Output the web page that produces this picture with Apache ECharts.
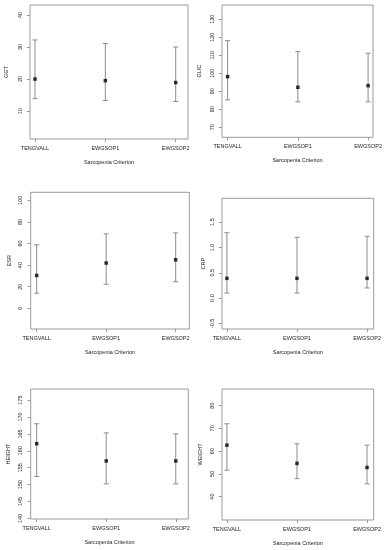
<!DOCTYPE html>
<html><head><meta charset="utf-8">
<script src="https://cdn.jsdelivr.net/npm/echarts@6/dist/echarts.min.js"></script>
<style>html,body{margin:0;padding:0;background:#fff}#c{width:385px;height:550px}</style>
</head><body><div id="c"></div>
<script>
// ---- data ----
const categories = ['TENGVALL', 'EWGSOP1', 'EWGSOP2'];
const xTitle = 'Sarcopenia Criterion';

const ggtMean = [20.0, 19.5, 18.9];
const ggtLow  = [13.9, 13.3, 13.0];
const ggtHigh = [32.2, 31.1, 30.0];
const ggtTicks = [10, 20, 30, 40];

const glicMean = [98.1, 92.2, 93.1];
const glicLow  = [85.2, 84.1, 84.1];
const glicHigh = [118.1, 112.0, 111.1];
const glicTicks = [70, 80, 90, 100, 110, 120, 130];

const esrMean = [30.4, 41.9, 44.9];
const esrLow  = [13.9, 22.2, 24.6];
const esrHigh = [58.8, 68.9, 69.8];
const esrTicks = [0, 20, 40, 60, 80, 100];

const crpMean = [0.39, 0.39, 0.39];
const crpLow  = [0.10, 0.10, 0.20];
const crpHigh = [1.29, 1.20, 1.22];
const crpTicks = [-0.5, 0.0, 0.5, 1.0, 1.5];

const heightMean = [162.1, 157.0, 157.0];
const heightLow  = [152.4, 150.2, 150.2];
const heightHigh = [168.0, 165.3, 165.0];
const heightTicks = [140, 145, 150, 155, 160, 165, 170, 175];

const weightMean = [62.6, 54.6, 52.8];
const weightLow  = [51.6, 47.9, 45.6];
const weightHigh = [72.0, 63.2, 62.6];
const weightTicks = [40, 50, 60, 70, 80];

const panels = [
  {name: 'GGT',    mean: ggtMean,    low: ggtLow,    high: ggtHigh,    ticks: ggtTicks,    dec: 0},
  {name: 'GLIC',   mean: glicMean,   low: glicLow,   high: glicHigh,   ticks: glicTicks,   dec: 0},
  {name: 'ESR',    mean: esrMean,    low: esrLow,    high: esrHigh,    ticks: esrTicks,    dec: 0},
  {name: 'CRP',    mean: crpMean,    low: crpLow,    high: crpHigh,    ticks: crpTicks,    dec: 1},
  {name: 'HEIGHT', mean: heightMean, low: heightLow, high: heightHigh, ticks: heightTicks, dec: 0},
  {name: 'WEIGHT', mean: weightMean, low: weightLow, high: weightHigh, ticks: weightTicks, dec: 0}
];

// ---- layout (box edges in px, axis ranges, title gaps) ----
const layout = [
  {l: 30,   t: 5,     r: 188,   b: 139,   xmin: 0.929, xmax: 3.175, ymin: 1.3,   ymax: 43.1,  yGap: 21},
  {l: 222,  t: 5,     r: 373.7, b: 137.3, xmin: 0.92,  xmax: 3.07,  ymin: 64.4,  ymax: 137.9, yGap: 20},
  {l: 30.7, t: 192.3, r: 189.3, b: 329,   xmin: 0.914, xmax: 3.196, ymin: -19.2, ymax: 107.4, yGap: 18},
  {l: 222,  t: 198.3, r: 373.7, b: 329,   xmin: 0.93,  xmax: 3.095, ymin: -0.61, ymax: 1.97,  yGap: 16},
  {l: 30.7, t: 389,   r: 188.3, b: 519,   xmin: 0.914, xmax: 3.18,  ymin: 139.8, ymax: 178.3, yGap: 19},
  {l: 222,  t: 389,   r: 373.7, b: 520,   xmin: 0.93,  xmax: 3.095, ymin: 29.7,  ymax: 87.3,  yGap: 19}
];

const FONT = 'Liberation Sans';
const TXT = '#222';
const BOX = '#9a9a9a';
const BAR = '#8c8c8c';

const grid = [], xAxis = [], yAxis = [], series = [];
panels.forEach((p, i) => {
  const L = layout[i];
  grid.push({left: L.l, top: L.t, width: L.r - L.l, height: L.b - L.t,
    show: true, borderColor: BOX, borderWidth: 1, backgroundColor: 'transparent'});
  const xVals = categories.map((c, k) => k + 1);
  xAxis.push({type: 'value', gridIndex: i, min: L.xmin, max: L.xmax, position: 'bottom',
    name: xTitle, nameLocation: 'middle', nameGap: 20,
    nameTextStyle: {fontFamily: FONT, fontSize: 5.5, color: TXT},
    axisLine: {show: false, onZero: false},
    axisTick: {show: true, length: 3, lineStyle: {color: BOX}, customValues: xVals},
    axisLabel: {show: true, customValues: xVals, margin: 6, fontFamily: FONT, fontSize: 5.5, color: TXT,
      formatter: v => categories[Math.round(v) - 1] || ''},
    splitLine: {show: false}});
  yAxis.push({type: 'value', gridIndex: i, min: L.ymin, max: L.ymax, position: 'left',
    name: p.name, nameLocation: 'middle', nameGap: L.yGap,
    nameTextStyle: {fontFamily: FONT, fontSize: 5.5, color: TXT},
    axisLine: {show: false, onZero: false},
    axisTick: {show: true, length: 3, lineStyle: {color: BOX}, customValues: p.ticks},
    axisLabel: {show: true, customValues: p.ticks, rotate: 90, margin: 7, fontFamily: FONT, fontSize: 5.5, color: TXT,
      formatter: v => Number(v).toFixed(p.dec)},
    splitLine: {show: false}});
  series.push({type: 'custom', xAxisIndex: i, yAxisIndex: i,
    data: categories.map((c, k) => [k + 1, p.low[k], p.high[k]]),
    renderItem: (params, api) => {
      const lo = api.coord([api.value(0), api.value(1)]);
      const hi = api.coord([api.value(0), api.value(2)]);
      const w = 2.5;
      const st = {stroke: BAR, lineWidth: 1};
      return {type: 'group', children: [
        {type: 'line', shape: {x1: lo[0], y1: lo[1], x2: hi[0], y2: hi[1]}, style: st},
        {type: 'line', shape: {x1: lo[0] - w, y1: lo[1], x2: lo[0] + w, y2: lo[1]}, style: st},
        {type: 'line', shape: {x1: hi[0] - w, y1: hi[1], x2: hi[0] + w, y2: hi[1]}, style: st}
      ]};
    }, z: 2});
  series.push({type: 'scatter', xAxisIndex: i, yAxisIndex: i,
    data: categories.map((c, k) => [k + 1, p.mean[k]]),
    symbol: 'rect', symbolSize: 3.5, itemStyle: {color: '#000'}, z: 3});
});

const chart = echarts.init(document.getElementById('c'), null, {renderer: 'canvas'});
chart.setOption({animation: false, backgroundColor: '#fff', grid, xAxis, yAxis, series});
</script></body></html>
